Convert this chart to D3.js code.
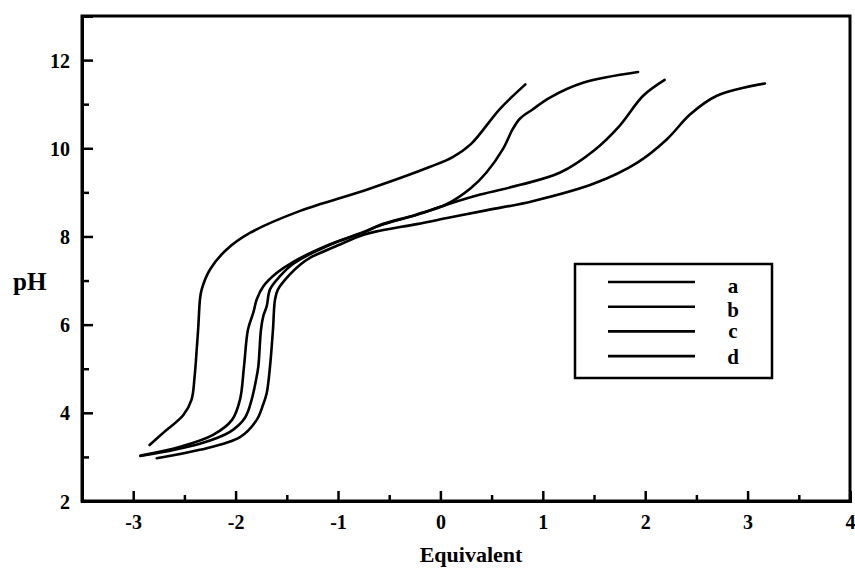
<!DOCTYPE html>
<html>
<head>
<meta charset="utf-8">
<script src="https://cdn.jsdelivr.net/npm/d3@7"></script>
<style>
  body { margin: 0; background: #fff; }
  svg text { font-family: "Liberation Serif", "Times New Roman", serif; font-weight: bold; }
</style>
</head>
<body>
<div id="chart"></div>
<script>
// titration curves, pH vs equivalent
var eqA = [-2.84, -2.71, -2.51, -2.43, -2.40, -2.38, -2.364, -2.348, -2.331, -2.25, -2.09, -1.86, -1.37, -0.72, -0.1, 0.12, 0.3, 0.58, 0.83]
var phA = [3.27, 3.54, 3.95, 4.3, 4.83, 5.43, 5.96, 6.57, 6.8, 7.25, 7.7, 8.08, 8.58, 9.06, 9.58, 9.8, 10.1, 10.89, 11.45]

var eqB = [-2.93, -2.54, -2.22, -2.035, -1.957, -1.918, -1.879, -1.827, -1.794, -1.729, -1.6, -1.44, -1.1, -0.75, -0.59, -0.23, 0.06, 0.29, 0.45, 0.61, 0.71, 0.78, 0.9, 1.07, 1.4, 1.93]
var phB = [3.03, 3.23, 3.5, 3.84, 4.3, 5.05, 5.89, 6.27, 6.57, 6.87, 7.17, 7.42, 7.8, 8.1, 8.26, 8.5, 8.73, 9.08, 9.45, 9.98, 10.45, 10.68, 10.88, 11.15, 11.49, 11.73]

var eqC = [-2.93, -2.35, -2.055, -1.908, -1.843, -1.8, -1.778, -1.752, -1.729, -1.696, -1.664, -1.566, -1.436, -1.1, -0.75, -0.59, -0.23, 0.06, 0.39, 0.78, 1.17, 1.5, 1.75, 1.98, 2.19]
var phC = [3.02, 3.3, 3.57, 3.89, 4.3, 4.75, 5.05, 5.89, 6.2, 6.42, 6.8, 7.1, 7.38, 7.79, 8.09, 8.25, 8.49, 8.72, 8.95, 9.17, 9.45, 9.95, 10.51, 11.19, 11.55]

var eqD = [-2.77, -2.35, -1.957, -1.794, -1.732, -1.696, -1.664, -1.635, -1.615, -1.586, -1.47, -1.37, -1.27, -1.0, -0.75, -0.59, -0.23, 0.09, 0.42, 0.9, 1.5, 1.92, 2.21, 2.44, 2.7, 3.17]
var phD = [2.97, 3.16, 3.45, 3.84, 4.18, 4.45, 5.05, 5.89, 6.57, 6.8, 7.14, 7.36, 7.52, 7.8, 8.04, 8.13, 8.28, 8.43, 8.58, 8.8, 9.2, 9.67, 10.2, 10.77, 11.19, 11.47]

var seriesNames = ["a", "b", "c", "d"]
var xTicks = [-3, -2, -1, 0, 1, 2, 3, 4]
var xMinor = [-2.5, -1.5, -0.5, 0.5, 1.5, 2.5, 3.5]
var yTicks = [2, 4, 6, 8, 10, 12]
var yMinor = [3, 5, 7, 9, 11]

function draw_chart() {

    var width = 855, height = 582
    var padLeft = 82, padRight = 850, padTop = 16, padBottom = 501

    var svg = d3.select("#chart").append("svg")
        .attr("width", width)
        .attr("height", height)

    var x = d3.scaleLinear().domain([-3.5, 4]).range([padLeft, padRight])
    var y = d3.scaleLinear().domain([2, 13]).range([padBottom, padTop])

    // frame
    svg.append("rect")
        .attr("x", padLeft).attr("y", padTop)
        .attr("width", padRight - padLeft).attr("height", padBottom - padTop)
        .attr("fill", "none").attr("stroke", "#000").attr("stroke-width", 3)

    // y axis
    var yAxis = svg.append("g").attr("transform", `translate(${padLeft},0)`)
        .call(d3.axisLeft(y).tickValues(yTicks).tickSize(-11).tickFormat(d3.format("d")))
    svg.append("g").attr("transform", `translate(${padLeft},0)`)
        .call(d3.axisLeft(y).tickValues(yMinor).tickSize(-7).tickFormat(""))
        .select(".domain").remove()

    // x axis
    var xAxis = svg.append("g").attr("transform", `translate(0,${padBottom})`)
        .call(d3.axisBottom(x).tickValues(xTicks).tickSize(-10).tickFormat(function (d) { return d }))
    svg.append("g").attr("transform", `translate(0,${padBottom})`)
        .call(d3.axisBottom(x).tickValues(xMinor).tickSize(-6).tickFormat(""))
        .select(".domain").remove()

    svg.selectAll(".domain").attr("stroke-width", 3)
    svg.selectAll(".tick line").attr("stroke", "#000").attr("stroke-width", 2.5)

    yAxis.selectAll("text")
        .attr("x", -12).attr("dy", "0.35em")
        .style("font-size", "20px").attr("fill", "#000")
    xAxis.selectAll("text")
        .attr("y", 14).attr("dy", "0.71em")
        .style("font-size", "20px").attr("fill", "#000")

    // axis titles
    svg.append("text")
        .attr("x", 13).attr("y", 290)
        .style("font-size", "25px")
        .text("pH")
    svg.append("text")
        .attr("x", 471).attr("y", 562)
        .attr("text-anchor", "middle")
        .style("font-size", "22px")
        .text("Equivalent")

    // curves
    var curves = [[eqA, phA], [eqB, phB], [eqC, phC], [eqD, phD]]
    var line = d3.line()
        .x(function (d) { return x(d[0]) })
        .y(function (d) { return y(d[1]) })
        .curve(d3.curveCatmullRom.alpha(0.5))

    svg.selectAll("path.curve")
        .data(curves)
        .enter().append("path")
        .attr("class", "curve")
        .attr("fill", "none")
        .attr("stroke", "#000")
        .attr("stroke-width", 2.6)
        .attr("stroke-linecap", "round")
        .attr("d", function (c) { return line(d3.zip(c[0], c[1])) })

    // legend
    var lg = svg.append("g")
    lg.append("rect")
        .attr("x", 575).attr("y", 264)
        .attr("width", 197).attr("height", 114)
        .attr("fill", "#fff").attr("stroke", "#000").attr("stroke-width", 2.5)

    var rows = lg.selectAll("g.row")
        .data(seriesNames)
        .enter().append("g")
        .attr("transform", function (d, i) { return `translate(0,${282 + i * 24.7})` })
    rows.append("line")
        .attr("x1", 608).attr("x2", 695)
        .attr("stroke", "#000").attr("stroke-width", 2.6)
    rows.append("text")
        .attr("x", 733).attr("y", function (d, i) { return [11, 10, 7, 8][i] })
        .attr("text-anchor", "middle")
        .style("font-size", "21px")
        .text(function (d) { return d })
}

draw_chart()
</script>
</body>
</html>
